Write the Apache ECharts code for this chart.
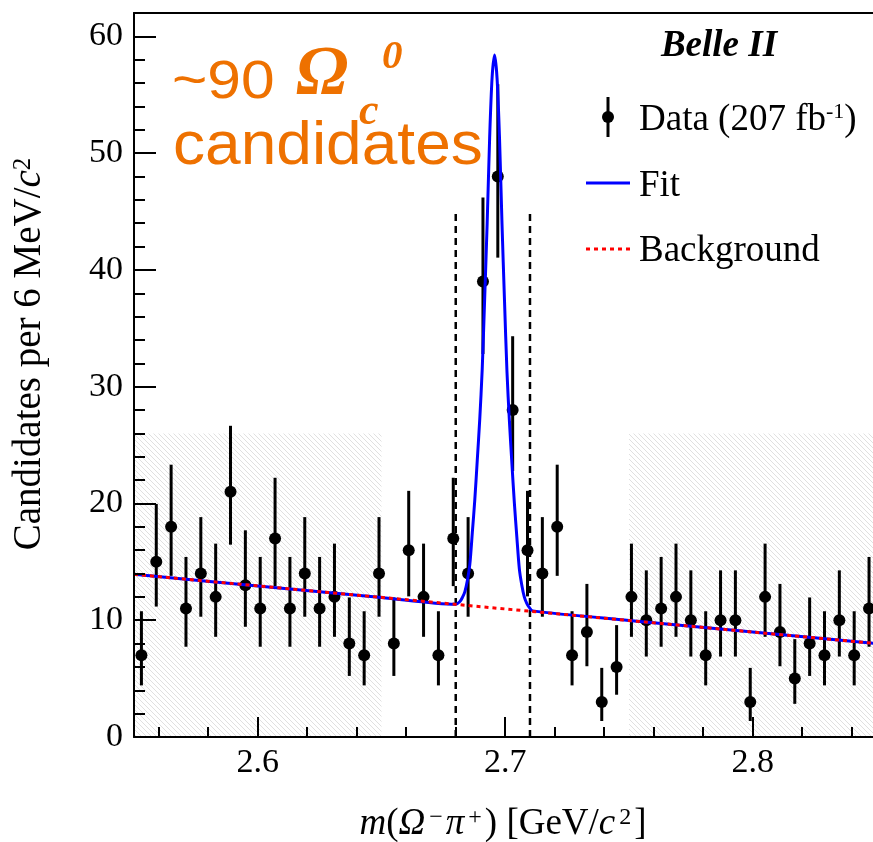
<!DOCTYPE html>
<html><head><meta charset="utf-8">
<script src="https://cdn.jsdelivr.net/npm/echarts@6/dist/echarts.min.js"></script>
<style>html,body{margin:0;padding:0;background:#fff}#c{width:873px;height:842px}</style>
</head><body><div id="c"></div>
<script>
// ---- data ----
const binCenters = [2.553,2.559,2.565,2.571,2.577,2.583,2.589,2.595,2.601,2.607,
  2.613,2.619,2.625,2.631,2.637,2.643,2.649,2.655,2.661,2.667,
  2.673,2.679,2.685,2.691,2.697,2.703,2.709,2.715,2.721,2.727,
  2.733,2.739,2.745,2.751,2.757,2.763,2.769,2.775,2.781,2.787,
  2.793,2.799,2.805,2.811,2.817,2.823,2.829,2.835,2.841,2.847];
const counts = [7,15,18,11,14,12,21,13,11,17,
  11,14,11,12,8,7,14,8,16,12,
  7,17,14,39,48,28,16,14,18,7,
  9,3,6,12,10,11,12,10,7,10,
  10,3,12,9,5,8,7,10,7,11];
// asymmetric (Poisson) error bar ends, keyed by count
const errLowByCount  = {3:1.37,5:2.84,6:3.62,7:4.42,8:5.23,9:6.06,10:6.89,11:7.73,12:8.58,13:9.44,14:10.30,15:11.17,16:12.04,17:12.92,18:13.80,21:16.47,28:22.78,39:32.8,48:41.05};
const errHighByCount = {3:5.92,5:8.38,6:9.58,7:10.77,8:11.95,9:13.11,10:14.27,11:15.42,12:16.56,13:17.70,14:18.83,15:19.96,16:21.08,17:22.20,18:23.32,21:26.65,28:34.32,39:46.2,48:55.9};
// fit curve
const fitX = [2.550,2.600,2.650,2.6800,2.6817,2.6827,2.6837,2.6847,2.6857,2.6867,2.6877,2.6887,2.6897,2.6907,2.6917,2.6927,2.6937,2.6947,2.6957,2.6967,2.6977,2.6987,2.6997,2.7007,2.7017,2.7027,2.7037,2.7047,2.7057,2.7067,2.7077,2.7087,2.7097,2.7111,2.750,2.800,2.850];
const fitY = [13.93,12.94,11.95,11.37,11.6,11.95,12.45,13.4,14.8,17.5,20.3,23.7,27.2,31.5,37.6,44.0,51.3,56.5,58.4,56.4,51.2,43.9,37.4,31.3,27.0,23.4,20.0,17.1,14.4,13.0,12.0,11.45,11.1,10.8,9.98,8.99,8.0];
const bkgX = [2.55, 2.85];
const bkgY = [13.93, 8.0];
const sidebands = [[2.55, 2.65], [2.75, 2.85]];
const sidebandTop = 26;
const signalWindow = [2.68, 2.71];
const windowTop = 45;
const xMajorTicks = [2.6, 2.7, 2.8];
const xMinorTicks = [2.56,2.58,2.62,2.64,2.66,2.68,2.72,2.74,2.76,2.78,2.82,2.84];
const yMajorTicks = [0,10,20,30,40,50,60];
const yMinorTicks = [2,4,6,8,12,14,16,18,22,24,26,28,32,34,36,38,42,44,46,48,52,54,56,58];

// ---- rendering ----
const SERIF = '"Liberation Serif","Times New Roman",serif';
const SANS = '"Liberation Sans",Arial,Helvetica,sans-serif';
const ORANGE = '#EE7100';
const xMin = 2.55, xMax = 2.8486, yMin = 0, yMax = 62;

function makeHatch(){
  const s = 5, cv = document.createElement('canvas');
  cv.width = s; cv.height = s;
  const g = cv.getContext('2d');
  g.strokeStyle = 'rgba(0,0,0,0.12)'; g.lineWidth = 1;
  g.beginPath();
  g.moveTo(-1,-1); g.lineTo(s+1,s+1);
  g.moveTo(-1,s-1); g.lineTo(1,s+1);
  g.moveTo(s-1,-1); g.lineTo(s+1,1);
  g.stroke();
  return cv;
}
const hatch = makeHatch();
const blk = {color:'#000', width:2};

const chart = echarts.init(document.getElementById('c'), null, {renderer:'canvas'});
const option = {
  animation: false,
  backgroundColor: '#fff',
  grid: {left:134, right:0, top:13, bottom:105, containLabel:false, outerBoundsMode:'none'},
  xAxis: [
    {type:'value', min:xMin, max:xMax, position:'bottom', z:10,
     axisLine:{show:true, onZero:false, lineStyle:blk},
     axisTick:{show:true, inside:true, length:20, customValues:xMajorTicks, lineStyle:blk},
     axisLabel:{show:true, customValues:xMajorTicks, formatter:v=>v.toFixed(1), fontFamily:SERIF, fontSize:34, color:'#000', margin:9},
     splitLine:{show:false}},
    {type:'value', min:xMin, max:xMax, position:'bottom', z:10,
     axisLine:{show:false},
     axisTick:{show:true, inside:true, length:10, customValues:xMinorTicks, lineStyle:blk},
     axisLabel:{show:false}, splitLine:{show:false}},
    {type:'value', min:xMin, max:xMax, position:'top', z:10,
     axisLine:{show:true, onZero:false, lineStyle:blk},
     axisTick:{show:false}, axisLabel:{show:false}, splitLine:{show:false}}
  ],
  yAxis: [
    {type:'value', min:yMin, max:yMax, position:'left', z:10,
     axisLine:{show:true, onZero:false, lineStyle:blk},
     axisTick:{show:true, inside:true, length:22, customValues:yMajorTicks, lineStyle:blk},
     axisLabel:{show:true, customValues:yMajorTicks, fontFamily:SERIF, fontSize:34, color:'#000', margin:11},
     splitLine:{show:false}},
    {type:'value', min:yMin, max:yMax, position:'left', z:10,
     axisLine:{show:false},
     axisTick:{show:true, inside:true, length:11, customValues:yMinorTicks, lineStyle:blk},
     axisLabel:{show:false}, splitLine:{show:false}}
  ],
  series: [
    {type:'custom', name:'sidebands', xAxisIndex:0, yAxisIndex:0, clip:true, silent:true, z:1,
     data: sidebands.map(s=>[s[0], s[1], sidebandTop]),
     renderItem:(params, api)=>{
       const p0 = api.coord([api.value(0), api.value(2)]);
       const p1 = api.coord([api.value(1), 0]);
       return {type:'rect', shape:{x:p0[0], y:p0[1], width:p1[0]-p0[0], height:p1[1]-p0[1]},
               style:{fill:{image:hatch, repeat:'repeat'}}};
     }},
    {type:'custom', name:'Data', xAxisIndex:0, yAxisIndex:0, clip:true, silent:true, z:3,
     data: binCenters.map((x,i)=>[x, counts[i], errLowByCount[counts[i]], errHighByCount[counts[i]]]),
     renderItem:(params, api)=>{
       const x = api.value(0);
       const c = api.coord([x, api.value(1)]);
       const lo = api.coord([x, api.value(2)]);
       const hi = api.coord([x, api.value(3)]);
       return {type:'group', children:[
         {type:'line', shape:{x1:c[0], y1:lo[1], x2:c[0], y2:hi[1]}, style:{stroke:'#000', lineWidth:3}},
         {type:'circle', shape:{cx:c[0], cy:c[1], r:6}, style:{fill:'#000'}}
       ]};
     }},
    {type:'custom', name:'window', xAxisIndex:0, yAxisIndex:0, clip:true, silent:true, z:4,
     data: signalWindow.map(x=>[x, windowTop]),
     renderItem:(params, api)=>{
       const a = api.coord([api.value(0), 0]);
       const b = api.coord([api.value(0), api.value(1)]);
       return {type:'line', shape:{x1:a[0], y1:a[1], x2:b[0], y2:b[1]}, style:{stroke:'#000', lineWidth:2.5, lineDash:[7,5]}};
     }},
    {type:'line', name:'Fit', xAxisIndex:0, yAxisIndex:0, clip:true, silent:true, z:5,
     data: fitX.map((x,i)=>[x, fitY[i]]), showSymbol:false, symbol:'none', smooth:0.3,
     lineStyle:{color:'#0000ff', width:3}},
    {type:'line', name:'Background', xAxisIndex:0, yAxisIndex:0, clip:true, silent:true, z:6,
     data: bkgX.map((x,i)=>[x, bkgY[i]]), showSymbol:false, symbol:'none',
     lineStyle:{color:'#ff0000', width:3, type:[4,4]}}
  ],
  graphic: [
    // orange annotation
    {type:'text', z:20, x:172, y:83, scaleX:1.12, style:{text:'~90', font:'54px '+SANS, fill:ORANGE, align:'left', verticalAlign:'middle', textAlign:'left', textVerticalAlign:'middle'}},
    {type:'text', z:20, x:296, y:76, style:{text:'Ω', font:'italic bold 70px '+SERIF, fill:ORANGE, align:'left', verticalAlign:'middle', textAlign:'left', textVerticalAlign:'middle'}},
    {type:'text', z:20, x:359, y:113, style:{text:'c', font:'italic bold 44px '+SERIF, fill:ORANGE, align:'left', verticalAlign:'middle', textAlign:'left', textVerticalAlign:'middle'}},
    {type:'text', z:20, x:382, y:57, style:{text:'0', font:'italic bold 41px '+SERIF, fill:ORANGE, align:'left', verticalAlign:'middle', textAlign:'left', textVerticalAlign:'middle'}},
    {type:'text', z:20, x:173, y:147, scaleX:1.05, style:{text:'candidates', font:'61px '+SANS, fill:ORANGE, align:'left', verticalAlign:'middle', textAlign:'left', textVerticalAlign:'middle'}},
    // Belle II + legend
    {type:'text', z:20, x:719, y:46, style:{text:'Belle II', font:'italic bold 37px '+SERIF, fill:'#000', align:'center', verticalAlign:'middle', textAlign:'center', textVerticalAlign:'middle'}},
    {type:'line', z:20, shape:{x1:608, y1:97, x2:608, y2:137}, style:{stroke:'#000', lineWidth:3}},
    {type:'circle', z:21, shape:{cx:608, cy:117, r:6}, style:{fill:'#000'}},
    {type:'text', z:20, x:639, y:120, style:{text:'{n|Data (207 fb}{s|-1}{n|)}', align:'left', verticalAlign:'middle', textAlign:'left', textVerticalAlign:'middle',
      rich:{n:{fontFamily:SERIF, fontSize:37, fill:'#000'}, s:{fontFamily:SERIF, fontSize:22, fill:'#000', verticalAlign:'top'}}}},
    {type:'line', z:20, shape:{x1:586, y1:183, x2:630, y2:183}, style:{stroke:'#0000ff', lineWidth:3}},
    {type:'text', z:20, x:639, y:186, style:{text:'Fit', font:'37px '+SERIF, fill:'#000', align:'left', verticalAlign:'middle', textAlign:'left', textVerticalAlign:'middle'}},
    {type:'line', z:20, shape:{x1:586, y1:249, x2:630, y2:249}, style:{stroke:'#ff0000', lineWidth:3, lineDash:[4,4]}},
    {type:'text', z:20, x:639, y:251, style:{text:'Background', font:'37px '+SERIF, fill:'#000', align:'left', verticalAlign:'middle', textAlign:'left', textVerticalAlign:'middle'}},
    // axis titles
    {type:'text', z:20, x:30, y:354, rotation:Math.PI/2, style:{text:'{n|Candidates per 6 MeV/}{i|c}{s|2}', align:'center', verticalAlign:'middle', textAlign:'center', textVerticalAlign:'middle',
      rich:{n:{fontFamily:SERIF, fontSize:39, fill:'#000'}, i:{fontFamily:SERIF, fontStyle:'italic', fontSize:39, fill:'#000'}, s:{fontFamily:SERIF, fontSize:25, fill:'#000', verticalAlign:'top'}}}},
    {type:'text', z:20, x:503, y:824, style:{text:'{i|m}{n|(}{i|Ω}{s|−}{i|π}{s|+}{n|) [GeV/}{i|c}{s|2}{n|]}', align:'center', verticalAlign:'middle', textAlign:'center', textVerticalAlign:'middle',
      rich:{n:{fontFamily:SERIF, fontSize:37, fill:'#000'}, i:{fontFamily:SERIF, fontStyle:'italic', fontSize:37, fill:'#000'}, s:{fontFamily:SERIF, fontSize:24, fill:'#000', verticalAlign:'top', padding:[0,3,0,4]}}}}
  ]
};
chart.setOption(option);
</script>
</body></html>
